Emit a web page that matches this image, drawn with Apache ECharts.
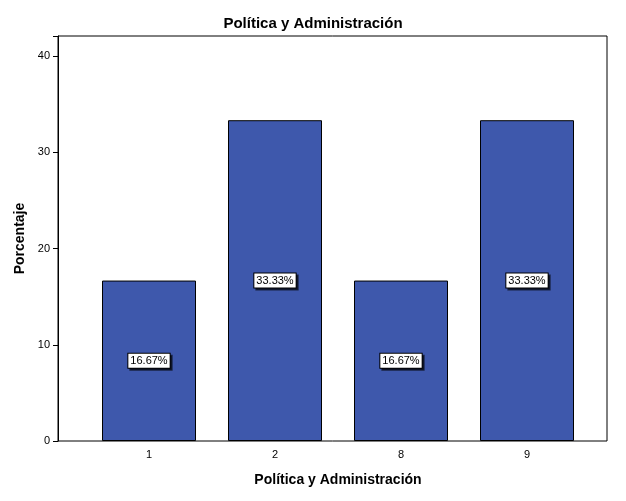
<!DOCTYPE html>
<html>
<head>
<meta charset="utf-8">
<script src="https://cdn.jsdelivr.net/npm/echarts@6/dist/echarts.min.js"></script>
<style>html,body{margin:0;padding:0;background:#fff}#c{width:626px;height:501px}</style>
</head>
<body>
<div id="c"></div>
<script>
var categories = ["1", "2", "8", "9"];
var values = [16.67, 33.33, 16.67, 33.33];
var yTicks = [0, 10, 20, 30, 40];

var chart = echarts.init(document.getElementById("c"));
var yMax = 42.08;
var fontBase = { fontFamily: "Liberation Sans", color: "#000" };

var option = {
  animation: false,
  backgroundColor: "#fff",
  title: {
    text: "Política y Administración",
    left: "center",
    top: 11,
    textStyle: { fontFamily: "Liberation Sans", fontSize: 15, fontWeight: "bold", color: "#000" }
  },
  grid: [
    { left: 58, right: 19, top: 36, bottom: 60, show: true, borderColor: "#000", borderWidth: 1 },
    { left: 86, right: 36, top: 36, bottom: 60 }
  ],
  xAxis: [
    { gridIndex: 0, type: "value", show: false, min: 0, max: 1 },
    {
      gridIndex: 1,
      type: "category",
      data: categories,
      name: "Política y Administración",
      nameLocation: "middle",
      nameGap: 32,
      nameTextStyle: { fontFamily: "Liberation Sans", fontSize: 14, fontWeight: "bold", color: "#000" },
      axisLine: { show: false },
      axisTick: { alignWithLabel: true, length: 5, lineStyle: { color: "#000" } },
      axisLabel: { fontFamily: "Liberation Sans", fontSize: 11, color: "#000", margin: 8 }
    }
  ],
  yAxis: [
    {
      gridIndex: 0,
      type: "value",
      min: 0,
      max: yMax,
      interval: 10,
      name: "Porcentaje",
      nameLocation: "middle",
      nameGap: 31,
      nameTextStyle: { fontFamily: "Liberation Sans", fontSize: 14, fontWeight: "bold", color: "#000" },
      splitLine: { show: false },
      axisLine: { show: true, lineStyle: { color: "#000" } },
      axisTick: { show: true, length: 5, lineStyle: { color: "#000" } },
      axisLabel: {
        fontFamily: "Liberation Sans", fontSize: 11, color: "#000",
        formatter: function (v) { return yTicks.indexOf(v) >= 0 ? v : ""; }
      }
    },
    { gridIndex: 1, type: "value", min: 0, max: yMax, show: false }
  ],
  series: [{
    type: "bar",
    xAxisIndex: 1,
    yAxisIndex: 1,
    data: values,
    barWidth: 94,
    itemStyle: { color: "#3e58ac", borderColor: "#000", borderWidth: 1 },
    label: {
      show: true,
      position: "inside",
      formatter: function (p) { return p.value.toFixed(2) + "%"; },
      fontFamily: "Liberation Sans",
      fontSize: 11,
      color: "#000",
      backgroundColor: "#fff",
      borderColor: "#000",
      borderWidth: 1,
      padding: [2, 2, 1, 2],
      shadowColor: "rgba(0,0,0,0.6)",
      shadowOffsetX: 2,
      shadowOffsetY: 2,
      shadowBlur: 0
    }
  }]
};

chart.setOption(option);
</script>
</body>
</html>
